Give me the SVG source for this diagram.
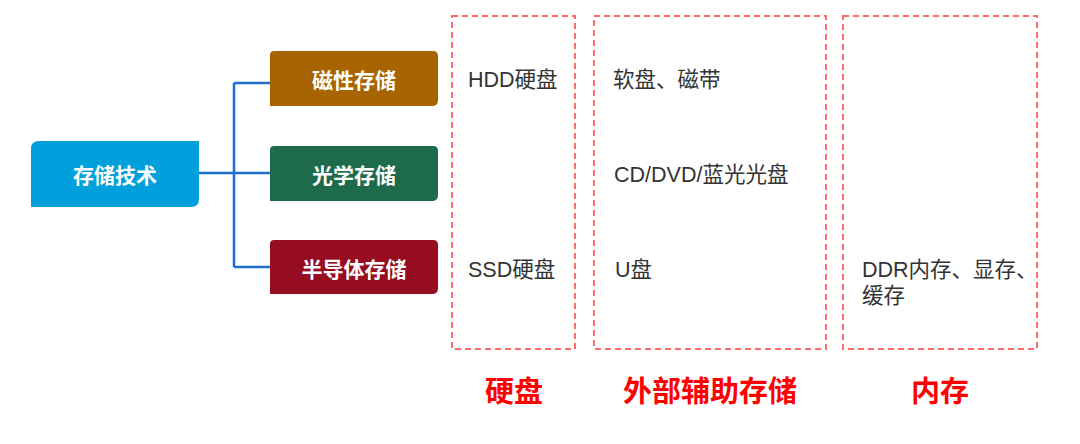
<svg xmlns="http://www.w3.org/2000/svg" width="1080" height="444" viewBox="0 0 1080 444">
<style>
.node-t{font-family:"Noto Sans CJK SC","Liberation Sans",sans-serif;font-weight:bold;font-size:21px;fill:#fff;text-anchor:middle;dominant-baseline:central}
.item{font-family:"Liberation Sans","Noto Sans CJK SC",sans-serif;font-size:21.5px;fill:#333}
.cat{font-family:"Noto Sans CJK SC",sans-serif;font-weight:bold;font-size:29px;fill:#FF0000;text-anchor:middle}
.dash{fill:none;stroke:#FF6B6B;stroke-width:2;stroke-dasharray:6 4}
.conn{fill:none;stroke:#1E6FCC;stroke-width:2.5}
</style>
<rect width="1080" height="444" fill="#fff"/>
<g id="connectors">
<path class="conn" d="M199 173 H234 M234 83 V267 M234 83 H270 M234 173 H270 M234 267 H270"/>
</g>
<g id="node-root">
<path d="M39 141 H199 V199 Q199 207 191 207 H31 V149 Q31 141 39 141 Z" fill="#00A0DC"/>
<text class="node-t" x="115" y="174">存储技术</text>
</g>
<g id="node-magnetic">
<path d="M274 51 H433 Q438 51 438 56 V100 Q438 106 432 106 H270 V55 Q270 51 274 51 Z" fill="#A86400"/>
<text class="node-t" x="354" y="79">磁性存储</text>
</g>
<g id="node-optical">
<path d="M274 146 H433 Q438 146 438 151 V195 Q438 201 432 201 H270 V150 Q270 146 274 146 Z" fill="#1D6B4B"/>
<text class="node-t" x="354" y="173.5">光学存储</text>
</g>
<g id="node-semi">
<path d="M274 240 H433 Q438 240 438 245 V288 Q438 294 432 294 H270 V244 Q270 240 274 240 Z" fill="#960C20"/>
<text class="node-t" x="354" y="267.5">半导体存储</text>
</g>
<g id="group-hdd">
<rect class="dash" x="452" y="16" width="123" height="333"/>
<text class="item" x="468" y="87">HDD硬盘</text>
<text class="item" x="468" y="277">SSD硬盘</text>
<text class="cat" x="514" y="402">硬盘</text>
</g>
<g id="group-external">
<rect class="dash" x="594" y="16" width="232" height="333"/>
<text class="item" x="613" y="87">软盘、磁带</text>
<text class="item" x="614" y="182">CD/DVD/蓝光光盘</text>
<text class="item" x="615" y="277">U盘</text>
<text class="cat" x="710" y="402">外部辅助存储</text>
</g>
<g id="group-memory">
<rect class="dash" x="843" y="16" width="194" height="333"/>
<text class="item" x="862" y="277">DDR内存、显存、</text>
<text class="item" x="862" y="303">缓存</text>
<text class="cat" x="940" y="402">内存</text>
</g>
</svg>
